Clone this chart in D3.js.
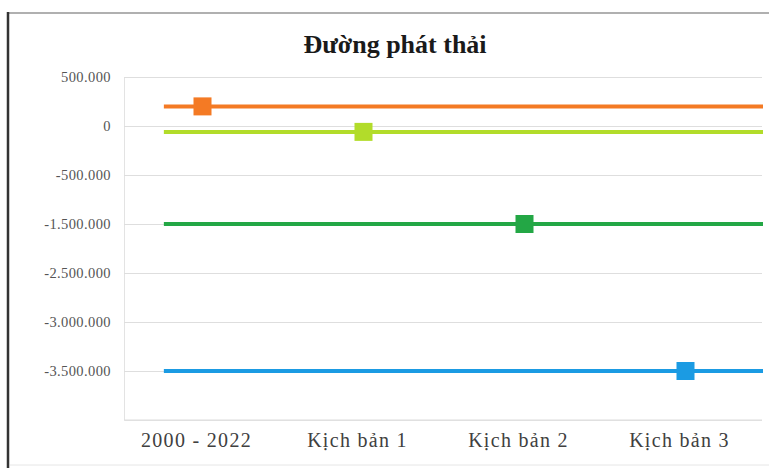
<!DOCTYPE html>
<html><head><meta charset="utf-8">
<script src="https://cdn.jsdelivr.net/npm/d3@7"></script>
<style>html,body{margin:0;padding:0;background:#fff;}svg{display:block;}</style>
</head><body>
<script>
const title = "Đường phát thải";
const categories = ["2000 - 2022", "Kịch bản 1", "Kịch bản 2", "Kịch bản 3"];
const tickValues = [500000, 0, -500000, -1500000, -2500000, -3000000, -3500000];
const tickLabels = ["500.000", "0", "-500.000", "-1.500.000", "-2.500.000", "-3.000.000", "-3.500.000"];
const axisBottomValue = -4000000;
const seriesNames = ["2000 - 2022", "Kịch bản 1", "Kịch bản 2", "Kịch bản 3"];
const seriesValues = [200000, -60000, -1500000, -3500000];
const seriesColors = ["#f47a24", "#b2dc2a", "#23a745", "#1b9be3"];

const W = 769, H = 468;
const svg = d3.select("body").append("svg").attr("width", W).attr("height", H);

// frame
svg.append("line").attr("x1", 8).attr("x2", W).attr("y1", 13).attr("y2", 13).attr("stroke", "#b0b0b0").attr("stroke-width", 2);
svg.append("line").attr("x1", 8).attr("x2", 8).attr("y1", 12).attr("y2", H).attr("stroke", "#333").attr("stroke-width", 2.5);
svg.append("line").attr("x1", 10).attr("x2", W).attr("y1", 465).attr("y2", 465).attr("stroke", "#e6e6e6").attr("stroke-width", 1);

const plot = {left: 122, right: 766, top: 77, bottom: 420};

const domainVals = tickValues.concat([axisBottomValue]);
const step = (plot.bottom - plot.top) / (domainVals.length - 1);
const y = d3.scaleLinear()
  .domain(domainVals)
  .range(domainVals.map((d, i) => plot.top + i * step));

const x = d3.scaleBand().domain(categories).range([plot.left, plot.right]);

// gridlines
const yAxis = d3.axisLeft(y).tickValues(tickValues).tickSize(-(plot.right - 4 - (plot.left + 2)))
  .tickFormat((d, i) => tickLabels[i]).tickPadding(14);
const gy = svg.append("g").attr("transform", `translate(${plot.left + 2},0)`).call(yAxis);
gy.select(".domain").attr("stroke", "#e3e3e3");
gy.selectAll(".tick line").attr("stroke", "#dedede").attr("stroke-width", 1.2);
gy.selectAll(".tick text").attr("font-family", "Liberation Serif, Times New Roman, serif")
  .attr("font-size", 14.5).attr("letter-spacing", 0.4).attr("fill", "#555").attr("x", -13);

// bottom axis line
svg.append("line").attr("x1", plot.left + 2).attr("x2", plot.right - 4)
  .attr("y1", y(axisBottomValue)).attr("y2", y(axisBottomValue)).attr("stroke", "#dedede").attr("stroke-width", 1.2);

const xAxis = d3.axisBottom(x).tickSize(0).tickPadding(13);
const gx = svg.append("g").attr("transform", `translate(-6,${y(axisBottomValue)})`).call(xAxis);
gx.select(".domain").remove();
gx.selectAll(".tick text").attr("font-family", "Liberation Serif, Times New Roman, serif")
  .attr("font-size", 20).attr("letter-spacing", 1.3).attr("fill", "#404040");

// series lines and markers
const lineStart = plot.left + x.step() * 0.26;
const lineEnd = plot.right - 3;
seriesValues.forEach((v, i) => {
  svg.append("line").attr("x1", lineStart).attr("x2", lineEnd)
    .attr("y1", y(v)).attr("y2", y(v)).attr("stroke", seriesColors[i]).attr("stroke-width", 4);
  const cx = x(seriesNames[i]) + x.bandwidth() / 2;
  svg.append("rect").attr("x", cx - 9).attr("y", y(v) - 9).attr("width", 18).attr("height", 18)
    .attr("fill", seriesColors[i]);
});

// title
svg.append("text").attr("x", 395).attr("y", 53).attr("text-anchor", "middle")
  .attr("font-family", "Liberation Serif, Times New Roman, serif").attr("font-weight", "bold")
  .attr("font-size", 26).attr("fill", "#1a1a1a").text(title);
</script>
</body></html>
